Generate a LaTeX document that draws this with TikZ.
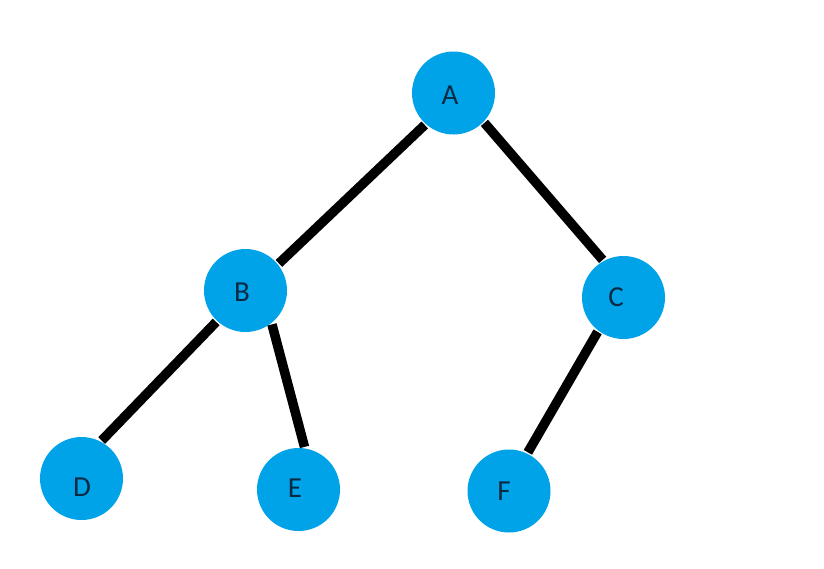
\documentclass[tikz,border=0pt]{standalone}
\usepackage{fontspec}
\setmainfont{Carlito}
\definecolor{nodeblue}{HTML}{00A2E8}
\definecolor{nodetext}{HTML}{0A2A44}
\begin{document}
\begin{tikzpicture}[x=1pt,y=-1pt,
  treenode/.style={circle,fill=nodeblue,minimum size=83pt,inner sep=0pt,outer sep=1.5pt},
  nodelabel/.style={inner sep=0pt,font=\fontsize{29}{29}\selectfont,text=nodetext},
  edge/.style={line width=9.5pt,black}]
\useasboundingbox[fill=white] (0,0) rectangle (824,568);
\node[treenode] (A) at (453.5,93) {};
\node[treenode] (B) at (245.5,290.5) {};
\node[treenode] (C) at (623.5,297.5) {};
\node[treenode] (D) at (81.5,478.5) {};
\node[treenode] (E) at (298.5,489.5) {};
\node[treenode] (F) at (509,491) {};
\node[nodelabel] (At) at (450,95) {A};
\node[nodelabel] (Bt) at (242,292) {B};
\node[nodelabel] (Ct) at (616,297) {C};
\node[nodelabel] (Dt) at (82,487) {D};
\node[nodelabel] (Et) at (295,488) {E};
\node[nodelabel] (Ft) at (504,491) {F};
\draw[edge] (A.228) -- (B.39);
\draw[edge] (A.-44) -- (C.119);
\draw[edge] (B.227) -- (D.62);
\draw[edge] (B.-52) -- (E.82);
\draw[edge] (C.233) -- (F.64);
\end{tikzpicture}
\end{document}
